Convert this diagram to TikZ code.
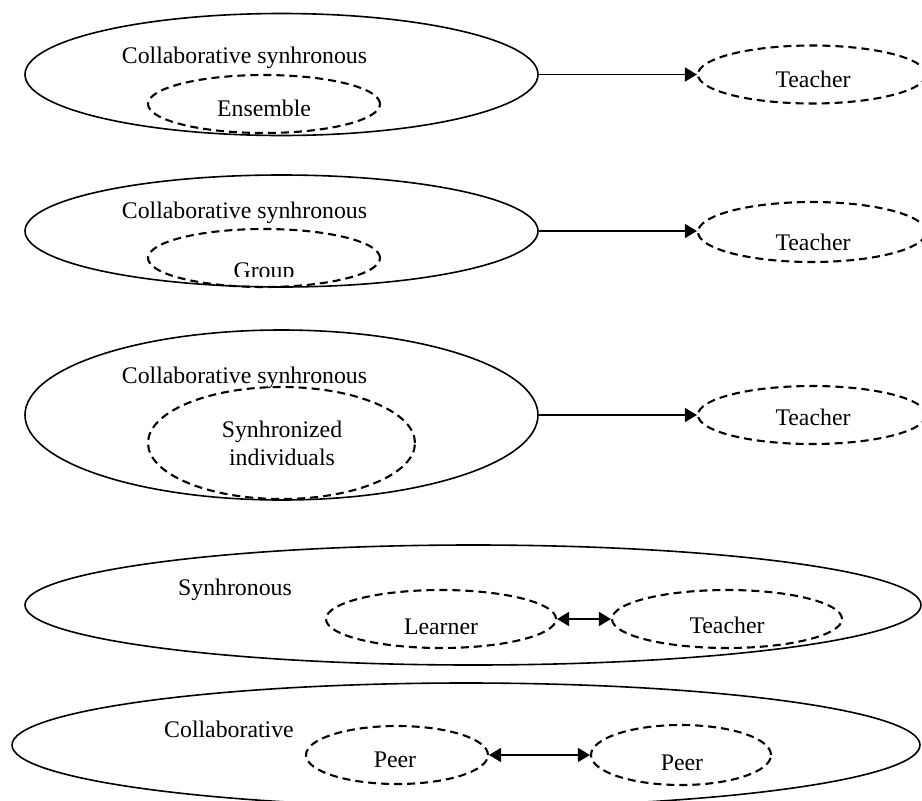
\documentclass[tikz,border=0pt]{standalone}
\usepackage{fontspec}
\setmainfont{Liberation Serif}
\usetikzlibrary{shapes.geometric,arrows.meta}
\begin{document}
\begin{tikzpicture}[x=1pt,y=-1pt,
  bigell/.style={draw, ellipse, line width=1.6pt, inner sep=0pt},
  dashell/.style={draw, ellipse, line width=2.1pt, dash pattern=on 8pt off 5pt, inner sep=0pt},
  lbl/.style={anchor=base, inner sep=0pt, font=\fontsize{23.8}{28}\selectfont},
  conn/.style={line width=1.6pt},
  onetip/.style={conn, -{Triangle[length=12pt,width=14pt]}},
  twotip/.style={conn, {Triangle[length=12pt,width=14pt]}-{Triangle[length=12pt,width=14pt]}}
]
\clip (0,0) rectangle (922,801);
\fill[white] (0,0) rectangle (922,801);

% Row 1
\node[bigell, minimum width=513pt, minimum height=122pt] (o1) at (281.5,74.5) {};
\node[lbl] (c1) at (244.5,63) {Collaborative synhronous};
\node[dashell, minimum width=232pt, minimum height=58pt] (e1) at (264,104) {};
\begin{scope}
  \clip (0,0) rectangle (922,115);
  \node[lbl] (e1t) at (264,116.5) {Ensemble};
\end{scope}
\node[dashell, minimum width=228pt, minimum height=58pt] (t1) at (812,74.5) {};
\node[lbl] (t1t) at (813,87) {Teacher};
\draw[onetip] (o1.east) -- (o1.east -| t1.west);

% Row 2
\node[bigell, minimum width=513pt, minimum height=112pt] (o2) at (281.5,231) {};
\node[lbl] (c2) at (244.5,218) {Collaborative synhronous};
\node[dashell, minimum width=232pt, minimum height=58pt] (e2) at (264,258) {};
\begin{scope}
  \clip (0,0) rectangle (922,276);
  \node[lbl] (e2t) at (264,278) {Group};
\end{scope}
\node[dashell, minimum width=228pt, minimum height=60pt] (t2) at (812,232) {};
\node[lbl] (t2t) at (813,250) {Teacher};
\draw[onetip] (o2.east) -- (o2.east -| t2.west);

% Row 3
\node[bigell, minimum width=513pt, minimum height=170pt] (o3) at (281.5,415) {};
\node[lbl] (c3) at (244.5,383) {Collaborative synhronous};
\node[dashell, minimum width=267pt, minimum height=112pt] (e3) at (281.5,443) {};
\node[lbl] (s3a) at (282,437) {Synhronized};
\node[lbl] (s3b) at (282,465) {individuals};
\node[dashell, minimum width=228pt, minimum height=58pt] (t3) at (812,415) {};
\node[lbl] (t3t) at (813,425) {Teacher};
\draw[onetip] (o3.east) -- (o3.east -| t3.west);

% Row 4
\node[bigell, minimum width=896pt, minimum height=120pt] (o4) at (473,605) {};
\node[lbl] (c4) at (235,595) {Synhronous};
\node[dashell, minimum width=230pt, minimum height=58pt] (l4) at (441,619) {};
\node[lbl] (l4t) at (441,634) {Learner};
\node[dashell, minimum width=230pt, minimum height=58pt] (t4) at (727,619) {};
\node[lbl] (t4t) at (727,633) {Teacher};
\draw[twotip] (l4.east) -- (t4.west);

% Row 5
\node[bigell, minimum width=908pt, minimum height=124pt] (o5) at (466,745) {};
\node[lbl] (c5) at (229,737) {Collaborative};
\node[dashell, minimum width=182pt, minimum height=58pt] (p1) at (397,755) {};
\node[lbl] (p1t) at (395,767) {Peer};
\node[dashell, minimum width=180pt, minimum height=60pt] (p2) at (681,755) {};
\node[lbl] (p2t) at (682,770) {Peer};
\draw[twotip] (p1.east) -- (p2.west);
\end{tikzpicture}
\end{document}
